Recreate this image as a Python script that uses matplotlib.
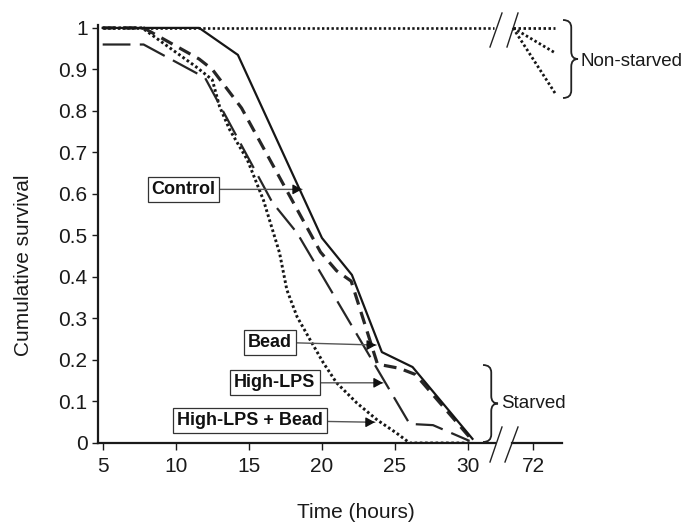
import matplotlib
matplotlib.use("Agg")
import matplotlib.pyplot as plt
from matplotlib.path import Path
from matplotlib.patches import PathPatch
from matplotlib.lines import Line2D

plt.rcParams['font.family'] = ['Liberation Sans', 'DejaVu Sans']

# ---------------- data ----------------
control_x = [5, 11.6, 14.25, 20.0, 22.05, 24.1, 26.2, 30.3]
control_y = [1, 1, 0.935, 0.494, 0.405, 0.219, 0.183, 0.01]

bead_x = [5, 7.8, 11.6, 12.5, 14.5, 19.9, 21.0, 22.0, 23.8, 25.3, 26.4, 30.2]
bead_y = [1, 1, 0.925, 0.90, 0.807, 0.46, 0.415, 0.39, 0.19, 0.18, 0.165, 0.01]

hlps_x = [5, 7.8, 12.0, 16.6, 18.3, 26.0, 27.6, 30.1]
hlps_y = [0.96, 0.96, 0.88, 0.58, 0.506, 0.046, 0.043, 0.005]

hlpsb_x = [5, 7.7, 11.4, 12.5, 13.0, 13.7, 14.9, 16.0, 17.1, 17.6, 18.3, 19.2,
           20.1, 21.0, 22.4, 23.8, 25.1, 26.0, 30.2]
hlpsb_y = [1, 1, 0.906, 0.875, 0.81, 0.754, 0.682, 0.585, 0.458, 0.369, 0.304,
           0.248, 0.193, 0.145, 0.096, 0.055, 0.024, 0.0, 0.0]

nonstarved_x = [5, 31.8]
nonstarved_y = [1, 1]

ns72_x = [70.0, 74.2]
ns72_y1 = [1, 1]
ns72_y2 = [1, 0.94]
ns72_y3 = [1, 0.843]

xticks_left = [5, 10, 15, 20, 25, 30]
xticks_right = [72]
yticks = [0, 0.1, 0.2, 0.3, 0.4, 0.5, 0.6, 0.7, 0.8, 0.9, 1]
ytick_labels = ['0', '0.1', '0.2', '0.3', '0.4', '0.5', '0.6', '0.7', '0.8', '0.9', '1']

labels = ['Control', 'Bead', 'High-LPS', 'High-LPS + Bead']
label_pos = [(10.53, 0.611), (16.44, 0.243), (16.78, 0.145), (15.07, 0.055)]
arrow_tips = [(18.63, 0.611), (23.7, 0.236), (24.17, 0.145), (23.62, 0.05)]

# ---------------- figure ----------------
W, H = 686, 523
fig = plt.figure(figsize=(W / 100, H / 100), dpi=100)


def fx(px):
    return px / W


def fy(py):
    return 1 - py / H


ax = fig.add_axes([fx(98), fy(443), (495 - 98) / W, (443 - 25) / H])
ax.set_xlim(4.68, 31.84)
ax.set_ylim(0, 1.007)

ax2 = fig.add_axes([fx(512), fy(443), 50 / W, (443 - 25) / H])
ax2.set_xlim(69.9, 74.9)
ax2.set_ylim(0, 1.007)
ax2.set_facecolor('none')

lc = '#161616'
ax.plot(nonstarved_x, nonstarved_y, color=lc, lw=1.9, dashes=(0.9, 0.9), zorder=3)
ax.plot(hlpsb_x, hlpsb_y, color=lc, lw=2.1, dashes=(0.9, 0.9), zorder=3)
ax.plot(hlps_x, hlps_y, color='#262626', lw=1.6, dashes=(12.5, 4.2), zorder=3)
ax.plot(bead_x, bead_y, color='#262626', lw=2.3, dashes=(4.0, 2.4), zorder=3)
ax.plot(control_x, control_y, color=lc, lw=1.6, zorder=4)

for yy in (ns72_y1, ns72_y2, ns72_y3):
    ax2.plot(ns72_x, yy, color=lc, lw=2.0, dashes=(0.9, 0.9), clip_on=False)

# axes styling
for a in (ax, ax2):
    a.spines['top'].set_visible(False)
    a.spines['right'].set_visible(False)
    a.spines['bottom'].set_linewidth(1.6)
    a.spines['bottom'].set_color('#1a1a1a')
ax.spines['left'].set_linewidth(1.6)
ax.spines['left'].set_color('#1a1a1a')
ax2.spines['left'].set_visible(False)

ax.set_xticks(xticks_left)
ax.set_xticklabels([str(t) for t in xticks_left])
ax.set_yticks(yticks)
ax.set_yticklabels(ytick_labels)
ax2.set_xticks(xticks_right)
ax2.set_xticklabels([str(t) for t in xticks_right])
ax2.set_yticks([])

ax.tick_params(axis='x', direction='out', length=5, width=1, labelsize=15, pad=5, colors='#1a1a1a')
ax.tick_params(axis='y', direction='out', length=4.5, width=1, labelsize=15, pad=3, colors='#1a1a1a')
ax2.tick_params(axis='x', direction='out', length=5, width=1, labelsize=15, pad=5, colors='#1a1a1a')

# labels with arrows
for txt, (tx, ty), (ax_, ay_) in zip(labels, label_pos, arrow_tips):
    ax.annotate(
        txt, xy=(ax_, ay_), xytext=(tx, ty), ha='center', va='center',
        fontsize=13, fontweight='bold', color='#111111', zorder=10,
        bbox=dict(boxstyle='square,pad=0.22', fc='white', ec='#333333', lw=0.9),
        arrowprops=dict(arrowstyle='-', color='#555555', lw=1.0, shrinkA=0, shrinkB=0),
    )
    ax.annotate('', xy=(ax_, ay_), xytext=(ax_ - 0.6, ay_), zorder=11,
                arrowprops=dict(arrowstyle='-|>,head_length=0.55,head_width=0.3',
                                color='#111111', lw=0.9, shrinkA=0, shrinkB=0))

# axis break slashes
for (x0, y0, x1, y1) in [(490, 462, 502, 427), (505, 462, 518, 427),
                         (490, 47, 502, 13), (507, 47, 518, 13)]:
    fig.add_artist(Line2D([fx(x0), fx(x1)], [fy(y0), fy(y1)], color='#222', lw=1.0))


def brace(x0, ytop, ybot, w):
    xs = x0 + w * 0.55
    xt = x0 + w
    ym = (ytop + ybot) / 2
    r = w * 0.5
    verts = [(x0, ytop), (xs, ytop), (xs, ytop + r),
             (xs, ym - r),
             (xs, ym), (xt, ym),
             (xs, ym), (xs, ym + r),
             (xs, ybot - r),
             (xs, ybot), (x0, ybot)]
    codes = [Path.MOVETO, Path.CURVE3, Path.CURVE3,
             Path.LINETO,
             Path.CURVE3, Path.CURVE3,
             Path.CURVE3, Path.CURVE3,
             Path.LINETO,
             Path.CURVE3, Path.CURVE3]
    verts = [(fx(a), fy(b)) for a, b in verts]
    p = PathPatch(Path(verts, codes), fc='none', ec='#222', lw=1.3,
                  transform=fig.transFigure)
    fig.add_artist(p)


brace(563, 20, 98, 15)
brace(483, 365, 442, 15)

fig.text(fx(580), fy(61), 'Non-starved', fontsize=13.5, va='center', ha='left', color='#1a1a1a')
fig.text(fx(501), fy(403), 'Starved', fontsize=13.5, va='center', ha='left', color='#1a1a1a')

fig.text(fx(356), fy(512), 'Time (hours)', fontsize=15, ha='center', va='center', color='#1a1a1a')
fig.text(fx(24), fy(265), 'Cumulative survival', fontsize=15, ha='center', va='center',
         rotation=90, color='#1a1a1a')

fig.savefig('out.png', dpi=100)
